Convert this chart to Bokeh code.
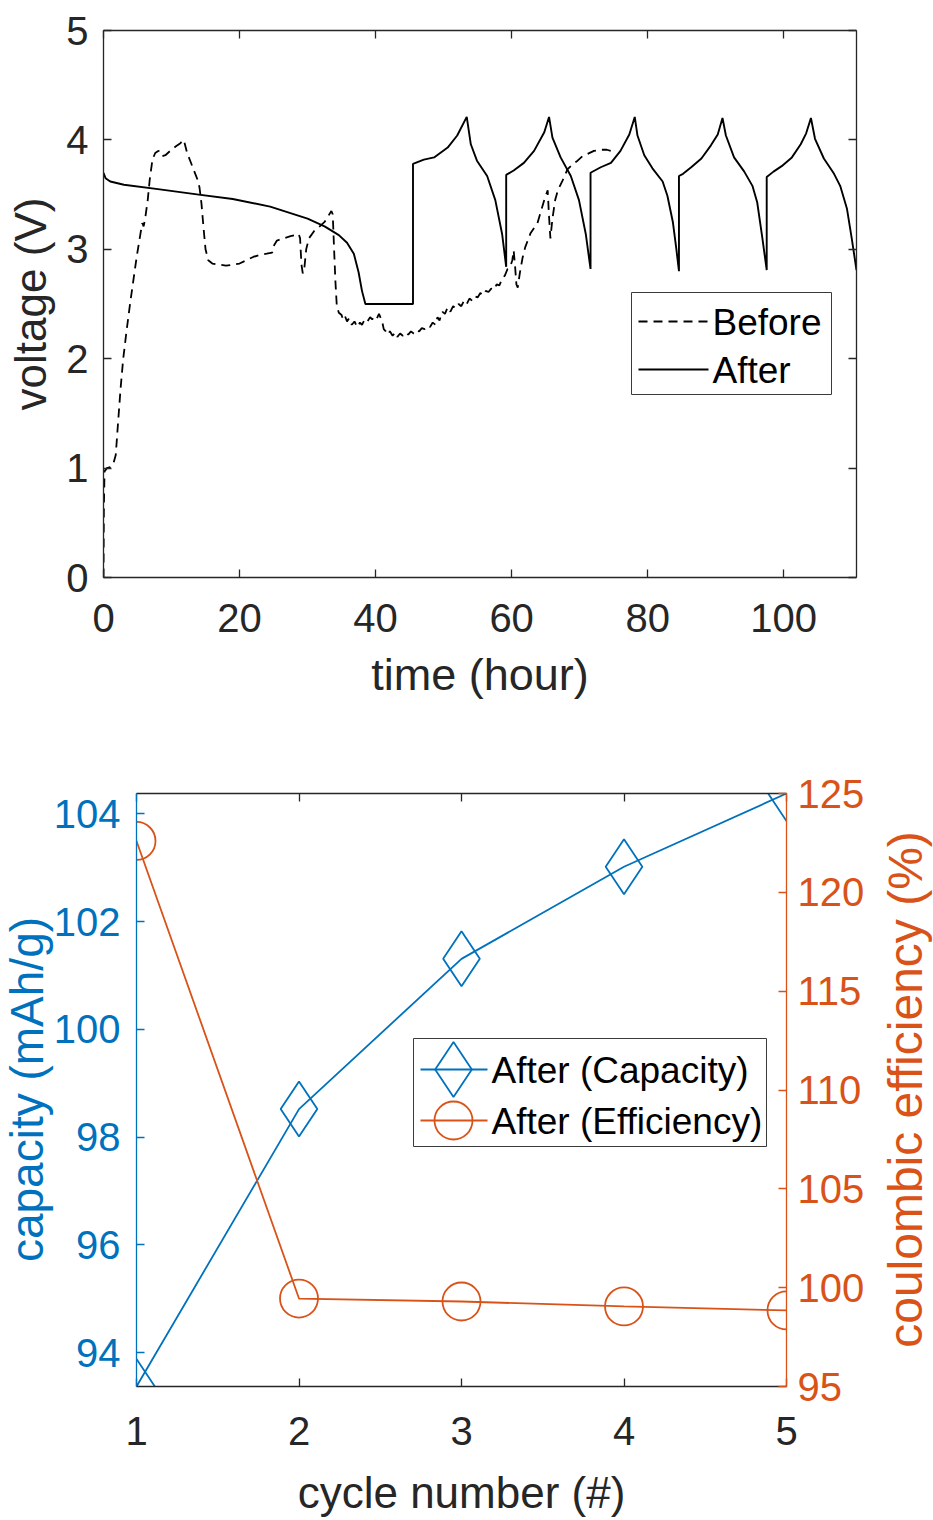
import math
from bokeh.plotting import figure
from bokeh.models import Range1d, LinearAxis, FixedTicker
from bokeh.embed import file_html
from bokeh.resources import INLINE
from bokeh.core.properties import value

FONT = "Liberation Sans"
AX = "#262626"
BLUE = "#0072BD"
ORANGE = "#D95319"

# ---------------- top chart data (voltage vs time) ----------------
before_t = [0.0, 0.05, 0.15, 0.5, 1.0, 1.4, 1.8, 2.1, 2.5, 2.9, 3.4, 3.9, 4.4, 4.9, 5.4, 5.7, 5.9, 6.1, 6.5, 6.8,
            7.2, 7.6, 8.1, 8.6, 9.1, 9.8, 10.6, 11.3, 11.8, 12.3, 12.8, 13.3, 13.8, 14.1, 14.4, 14.7, 15.0, 15.4,
            16.0, 17.0, 18.0, 19.0, 20.0, 21.0, 22.0, 23.0, 24.0, 24.8, 25.1, 25.5, 26.5, 27.5, 28.3, 28.7, 28.9,
            29.1, 29.3, 29.5, 29.8, 30.2, 31.0, 31.8, 32.5, 33.0, 33.5, 33.7, 33.9, 34.1, 34.3, 34.6, 35.0, 35.2,
            35.5, 35.8, 36.1, 36.5, 36.9, 37.3, 37.7, 38.0, 38.4, 38.8, 39.2, 39.5, 39.9, 40.2, 40.5, 40.7, 41.0,
            41.2, 41.5, 41.8, 42.1, 42.5, 42.9, 43.2, 43.6, 44.0, 44.4, 44.8, 45.2, 45.6, 46.0, 46.4, 46.8, 47.2,
            47.6, 48.0, 48.4, 48.8, 49.1, 49.4, 49.8, 50.2, 50.6, 51.0, 51.4, 51.8, 52.2, 52.6, 53.0, 53.4, 53.8,
            54.2, 54.6, 55.0, 55.4, 55.8, 56.2, 56.6, 57.0, 57.4, 57.8, 58.2, 58.6, 59.0, 59.4, 59.8, 60.1, 60.3,
            60.5, 60.7, 60.9, 61.2, 61.6, 62.0, 62.8, 63.8, 64.8, 65.3, 65.5, 65.7, 66.0, 66.4, 66.8, 67.5, 68.2,
            69.0, 69.7, 70.4, 71.1, 72.1, 73.1, 74.0, 74.6]
before_v = [0.0, 0.6, 0.97, 1.0, 1.01, 1.03, 1.12, 1.38, 1.72, 2.0, 2.26, 2.5, 2.72, 2.94, 3.13, 3.24, 3.21, 3.27, 3.45,
            3.64, 3.82, 3.88, 3.9, 3.85, 3.86, 3.9, 3.94, 3.97, 4.0, 3.88, 3.8, 3.72, 3.64, 3.57, 3.42, 3.2, 3.0, 2.9,
            2.87, 2.86, 2.85, 2.86, 2.87, 2.9, 2.93, 2.95, 2.96, 2.97, 3.04, 3.08, 3.1, 3.12, 3.13, 3.14, 3.1, 2.86,
            2.78, 2.81, 3.0, 3.1, 3.17, 3.21, 3.25, 3.3, 3.35, 3.32, 3.0, 2.7, 2.48, 2.42, 2.4, 2.36, 2.39, 2.34,
            2.37, 2.31, 2.34, 2.29, 2.33, 2.31, 2.36, 2.34, 2.38, 2.36, 2.39, 2.37, 2.41, 2.38, 2.33, 2.27, 2.25,
            2.22, 2.25, 2.21, 2.24, 2.2, 2.23, 2.21, 2.24, 2.22, 2.25, 2.23, 2.26, 2.25, 2.28, 2.27, 2.3, 2.29, 2.33,
            2.31, 2.38, 2.35, 2.43, 2.41, 2.47, 2.43, 2.48, 2.46, 2.5, 2.48, 2.53, 2.5, 2.55, 2.53, 2.57, 2.56, 2.6,
            2.58, 2.62, 2.61, 2.64, 2.63, 2.68, 2.67, 2.73, 2.76, 2.82, 2.84, 2.9, 2.99, 2.85, 2.68, 2.65, 2.78,
            2.92, 3.02, 3.15, 3.24, 3.45, 3.54, 3.3, 3.1, 3.28, 3.45, 3.54, 3.63, 3.73, 3.78, 3.81, 3.85, 3.87, 3.9,
            3.91, 3.91, 3.9]

after_t = [0.0, 0.3, 1.0, 3.0, 8.0, 14.0, 19.0, 24.5, 30.0, 32.5, 34.6, 35.8, 36.8, 37.5, 38.0, 38.5, 45.5,
           45.5, 47.1, 48.6, 50.6, 52.0, 53.4, 54.0, 54.9, 56.4, 57.6, 58.6, 59.2,
           59.2, 60.3, 61.8, 63.3, 64.8, 65.5, 66.0, 67.2, 68.7, 69.9, 70.9, 71.6,
           71.6, 73.1, 74.6, 76.0, 77.3, 78.1, 78.5, 79.5, 80.7, 82.2, 82.9, 83.7, 84.2, 84.6,
           84.6, 85.2, 86.4, 87.9, 89.3, 90.3, 91.0, 91.5, 92.7, 94.2, 95.4, 96.1, 96.8, 97.5,
           97.5, 98.5, 99.7, 101.2, 102.5, 103.3, 104.0, 104.6, 105.9, 107.4, 108.3, 109.3, 110.0, 110.7]
after_v = [3.70, 3.65, 3.62, 3.59, 3.55, 3.50, 3.46, 3.39, 3.28, 3.21, 3.13, 3.06, 2.96, 2.79, 2.62, 2.5, 2.5,
           3.78, 3.82, 3.84, 3.93, 4.04, 4.21, 3.96, 3.81, 3.67, 3.45, 3.14, 2.84,
           3.68, 3.72, 3.79, 3.90, 4.07, 4.21, 4.02, 3.84, 3.67, 3.45, 3.14, 2.82,
           3.70, 3.75, 3.79, 3.90, 4.05, 4.21, 4.04, 3.86, 3.74, 3.62, 3.49, 3.25, 3.01, 2.80,
           3.67, 3.69, 3.75, 3.83, 3.95, 4.05, 4.20, 4.04, 3.84, 3.71, 3.58, 3.43, 3.13, 2.81,
           3.66, 3.71, 3.76, 3.84, 3.96, 4.06, 4.20, 4.01, 3.83, 3.69, 3.58, 3.37, 3.10, 2.81]

time_ticks = [0, 20, 40, 60, 80, 100]
volt_ticks = [0, 1, 2, 3, 4, 5]
top_series = ["Before", "After"]

# ---------------- bottom chart data (cycles) ----------------
cycles = [1, 2, 3, 4, 5]
capacity = [93.37, 98.52, 101.31, 103.02, 104.38]
efficiency = [122.6, 99.45, 99.3, 99.05, 98.85]
cycle_ticks = [1, 2, 3, 4, 5]
cap_ticks = [94, 96, 98, 100, 102, 104]
eff_ticks = [95, 100, 105, 110, 115, 120, 125]
bottom_series = ["After (Capacity)", "After (Efficiency)"]


def style_axis(ax, color, label_color, show_labels=True, standoff=12):
    ax.axis_line_color = color
    ax.axis_line_width = 1.3
    ax.major_tick_line_color = color
    ax.major_tick_line_width = 1.3
    ax.major_tick_in = 8
    ax.major_tick_out = 0
    ax.minor_tick_line_color = None
    ax.major_label_text_font = FONT
    if show_labels:
        ax.major_label_text_font_size = "40px"
        ax.major_label_text_color = label_color
        ax.major_label_standoff = standoff
    else:
        ax.major_label_text_font_size = "10px"
        ax.major_label_text_color = None
        ax.major_label_standoff = 0


def axis_title(p, x, y, text, color, angle=0.0, size="44px"):
    # drawn at overlay level so that it is not clipped to the plot frame
    p.text(x=[x], y=[y], text=[text], angle=angle, text_font=value(FONT), text_font_size=size,
           text_color=color, text_align="center", text_baseline="middle", level="overlay")


# ======================= TOP FIGURE =======================
X0, X1 = 0, 110.7
Y0, Y1 = 0, 5
F1_L, F1_R, F1_T, F1_B = 103, 856, 30, 577   # frame edges in page pixels
p1 = figure(width=933, height=740, x_range=Range1d(X0, X1), y_range=Range1d(Y0, Y1),
            output_backend="svg", toolbar_location=None,
            min_border_left=F1_L, min_border_right=933 - F1_R, min_border_top=F1_T, min_border_bottom=740 - F1_B)
p1.outline_line_color = None
p1.grid.visible = False
p1.background_fill_color = "white"
p1.border_fill_color = "white"

p1.xaxis.ticker = FixedTicker(ticks=time_ticks)
p1.yaxis.ticker = FixedTicker(ticks=volt_ticks)
style_axis(p1.xaxis[0], AX, AX, standoff=26)
style_axis(p1.yaxis[0], AX, AX, standoff=15)

ax_top = LinearAxis(ticker=FixedTicker(ticks=time_ticks))
style_axis(ax_top, AX, AX, show_labels=False)
p1.add_layout(ax_top, "above")
ax_right = LinearAxis(ticker=FixedTicker(ticks=volt_ticks))
style_axis(ax_right, AX, AX, show_labels=False)
p1.add_layout(ax_right, "right")

p1.line(before_t, before_v, line_color="black", line_width=1.8, line_dash="9 6")
p1.line(after_t, after_v, line_color="black", line_width=1.9)


def t_of(px):
    return X0 + (px - F1_L) / (F1_R - F1_L) * (X1 - X0)


def v_of(py):
    return Y0 + (F1_B - py) / (F1_B - F1_T) * (Y1 - Y0)


# axis titles
axis_title(p1, t_of(479.5), v_of(674), "time (hour)", AX, size="45px")
axis_title(p1, t_of(30), v_of(303.5), "voltage (V)", AX, angle=math.pi / 2, size="44px")

# legend
p1.quad(left=[t_of(631)], right=[t_of(831)], bottom=[v_of(394)], top=[v_of(292)],
        fill_color="white", line_color="#3a3a3a", line_width=1)
p1.line([t_of(638), t_of(708)], [v_of(321), v_of(321)], line_color="black", line_width=1.8, line_dash="9 6")
p1.line([t_of(638), t_of(708)], [v_of(369), v_of(369)], line_color="black", line_width=1.9)
p1.text(x=[t_of(712), t_of(712)], y=[v_of(322), v_of(370)], text=top_series,
        text_font=value(FONT), text_font_size="37px", text_baseline="middle", text_align="left",
        text_color="black")

# ======================= BOTTOM FIGURE =======================
C0, C1 = 1, 5
K0, K1 = 93.37, 104.38
E0, E1 = 95, 125
F2_L, F2_R, F2_T, F2_B = 136, 786, 53, 646   # frame edges within the 780-high figure
p2 = figure(width=933, height=780, x_range=Range1d(C0, C1), y_range=Range1d(K0, K1),
            output_backend="svg", toolbar_location=None,
            min_border_left=F2_L, min_border_right=933 - F2_R, min_border_top=F2_T, min_border_bottom=780 - F2_B)
p2.extra_y_ranges = {"eff": Range1d(E0, E1)}
p2.outline_line_color = None
p2.grid.visible = False
p2.background_fill_color = "white"
p2.border_fill_color = "white"

p2.xaxis.ticker = FixedTicker(ticks=cycle_ticks)
p2.yaxis.ticker = FixedTicker(ticks=cap_ticks)
style_axis(p2.xaxis[0], AX, AX, standoff=30)
style_axis(p2.yaxis[0], BLUE, BLUE, standoff=16)

ax_top2 = LinearAxis(ticker=FixedTicker(ticks=cycle_ticks))
style_axis(ax_top2, AX, AX, show_labels=False)
p2.add_layout(ax_top2, "above")

ax_eff = LinearAxis(y_range_name="eff", ticker=FixedTicker(ticks=eff_ticks))
style_axis(ax_eff, ORANGE, ORANGE, standoff=11)
p2.add_layout(ax_eff, "right")

p2.line(cycles, capacity, line_color=BLUE, line_width=1.8)
p2.scatter(cycles, capacity, marker="diamond", size=55, fill_color=None, line_color=BLUE, line_width=1.8)
p2.line(cycles, efficiency, line_color=ORANGE, line_width=1.8, y_range_name="eff")
p2.scatter(cycles, efficiency, marker="circle", size=38, fill_color=None, line_color=ORANGE, line_width=1.8,
           y_range_name="eff")


def c_of(px):
    return C0 + (px - F2_L) / (F2_R - F2_L) * (C1 - C0)


def k_of(py):
    # py measured on the whole page (bottom figure starts at page y = 740)
    return K0 + (F2_B + 740 - py) / (F2_B - F2_T) * (K1 - K0)


axis_title(p2, c_of(461), k_of(1492), "cycle number (#)", AX, size="44px")
axis_title(p2, c_of(26.5), k_of(1089), "capacity (mAh/g)", BLUE, angle=math.pi / 2, size="46px")
axis_title(p2, c_of(904.5), k_of(1089), "coulombic efficiency (%)", ORANGE, angle=math.pi / 2, size="48px")

# legend
p2.quad(left=[c_of(413)], right=[c_of(766)], bottom=[k_of(1146)], top=[k_of(1038)],
        fill_color="white", line_color="#3a3a3a", line_width=1)
p2.line([c_of(420), c_of(487)], [k_of(1069), k_of(1069)], line_color=BLUE, line_width=1.8)
p2.scatter([c_of(453)], [k_of(1069)], marker="diamond", size=55, fill_color=None, line_color=BLUE, line_width=1.8)
p2.line([c_of(420), c_of(487)], [k_of(1120), k_of(1120)], line_color=ORANGE, line_width=1.8)
p2.scatter([c_of(453)], [k_of(1120)], marker="circle", size=38, fill_color=None, line_color=ORANGE, line_width=1.8)
p2.text(x=[c_of(491), c_of(491)], y=[k_of(1070), k_of(1121)], text=bottom_series,
        text_font=value(FONT), text_font_size="37px", text_baseline="middle", text_align="left",
        text_color="black")

open("out.html", "w").write(file_html([p1, p2], INLINE))
